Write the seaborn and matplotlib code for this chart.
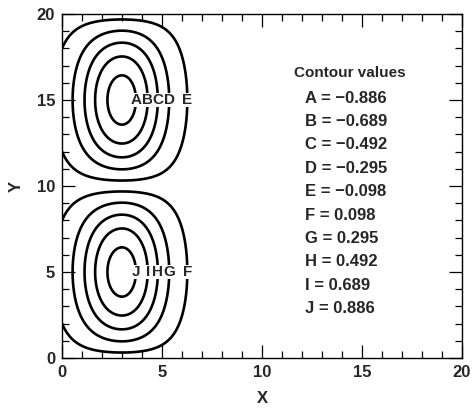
import numpy as np
import matplotlib
matplotlib.use("Agg")
import matplotlib.pyplot as plt
import seaborn as sns
from matplotlib.ticker import MultipleLocator

# ---- data ----
letters = ["A", "B", "C", "D", "E", "F", "G", "H", "I", "J"]
levels = [-0.886, -0.689, -0.492, -0.295, -0.098,
          0.098, 0.295, 0.492, 0.689, 0.886]
# field parameters estimated from the contour positions
amplitude = 0.984
x_center = 3.0
width_left = 2.25
width_right = 2.15
cell_height = 10.0
label_rows = {"neg": 15.0, "pos": 5.0}
x_limits = [0, 20]
y_limits = [0, 20]
major_ticks = [0, 5, 10, 15, 20]

sns.set_style("ticks")
plt.rcParams["font.family"] = ["Liberation Sans", "DejaVu Sans"]
plt.rcParams["font.weight"] = "bold"

fig = plt.figure(figsize=(4.72, 4.12), dpi=100)
ax = fig.add_axes([62 / 472, (412 - 358) / 412, 400 / 472, (358 - 14) / 412])

xg = np.linspace(x_limits[0], x_limits[1], 801)
yg = np.linspace(y_limits[0], y_limits[1], 801)
X, Y = np.meshgrid(xg, yg)
W = np.where(X < x_center, width_left, width_right)
psi = amplitude * np.exp(-((X - x_center) / W) ** 2) * np.sin(np.pi * Y / cell_height)

ax.contour(X, Y, psi, levels=sorted(levels), colors="black",
           linewidths=1.9, linestyles="solid")

for lab, lev in zip(letters, levels):
    xr = x_center + width_right * np.sqrt(-np.log(abs(lev) / amplitude))
    yr = label_rows["neg"] if lev < 0 else label_rows["pos"]
    ax.text(xr, yr, lab, ha="center", va="center", fontsize=11,
            fontweight="bold",
            bbox=dict(facecolor="white", edgecolor="none", pad=0.0))

# legend of contour values
ax.text(0.72, 0.828, "Contour values", transform=ax.transAxes,
        ha="center", va="center", fontsize=11, fontweight="bold")
for i, (lab, lev) in enumerate(zip(letters, levels)):
    s = f"{lab} = {lev:.3f}".replace("-", "\u2212")
    ax.text(0.6075, 0.755 - i * 0.0679, s, transform=ax.transAxes,
            ha="left", va="center", fontsize=12, fontweight="bold")

ax.set_xlim(x_limits)
ax.set_ylim(y_limits)
ax.set_xticks(major_ticks)
ax.set_yticks(major_ticks)
ax.xaxis.set_minor_locator(MultipleLocator(1))
ax.yaxis.set_minor_locator(MultipleLocator(1))
ax.tick_params(which="both", direction="in", top=True, right=True,
               width=0.9, color="black")
ax.tick_params(which="major", length=9.5, labelsize=12, pad=5)
ax.tick_params(which="minor", length=4.7)
for sp in ax.spines.values():
    sp.set_visible(True)
    sp.set_linewidth(1.0)
    sp.set_color("black")

ax.set_xlabel("X", fontsize=12, fontweight="bold")
ax.set_ylabel("Y", fontsize=12, fontweight="bold")
ax.xaxis.set_label_coords(0.5, -0.095)
ax.yaxis.set_label_coords(-0.095, 0.5)

fig.savefig("out.png", dpi=100)
